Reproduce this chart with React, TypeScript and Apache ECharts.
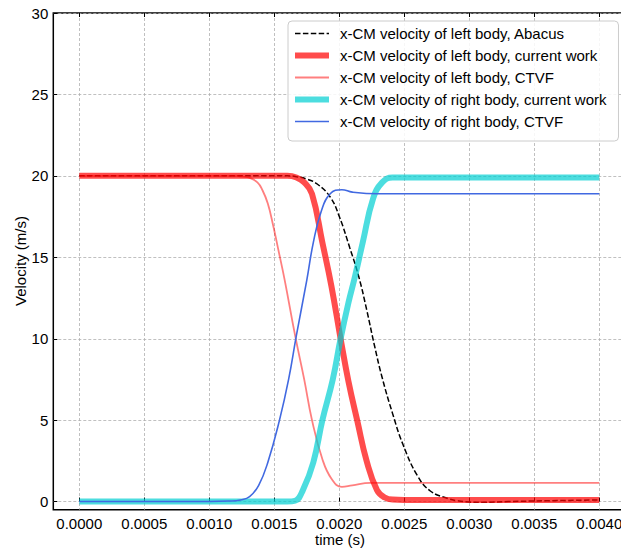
import React, { useEffect, useRef } from "react";
import * as echarts from "echarts";

const FONT = "'Liberation Sans', Arial, Helvetica, sans-serif";

// x tick labels (s) and y tick labels (m/s)
const xTicks = [0, 0.0005, 0.001, 0.0015, 0.002, 0.0025, 0.003, 0.0035, 0.004];
const yTicks = [0, 5, 10, 15, 20, 25, 30];

const seriesNames = [
  "x-CM velocity of left body, Abacus",
  "x-CM velocity of left body, current work",
  "x-CM velocity of left body, CTVF",
  "x-CM velocity of right body, current work",
  "x-CM velocity of right body, CTVF",
];

// Left body, Abacus
const abacusT = [0, 0.0016, 0.00167, 0.00175, 0.00183, 0.00193, 0.002, 0.00208, 0.00215, 0.00221, 0.00227, 0.00233, 0.00241, 0.00249, 0.0026, 0.0027, 0.00283, 0.0029, 0.003, 0.0031, 0.0033, 0.0036, 0.004];
const abacusV = [20, 20, 19.95, 19.8, 19.5, 18.7, 17.5, 15.6, 13.8, 11.8, 9.6, 7.6, 5.4, 3.5, 1.6, 0.65, 0.2, 0.06, -0.03, -0.05, 0.0, 0.05, 0.1];

// Left body, current work
const leftCurT = [0, 0.0016, 0.00167, 0.00173, 0.00179, 0.00187, 0.00194, 0.00201, 0.00207, 0.00214, 0.00221, 0.00229, 0.00235, 0.00241, 0.0025, 0.004];
const leftCurV = [20, 20, 19.9, 19.6, 18.9, 15.9, 13.2, 10.0, 7.4, 4.9, 2.5, 0.7, 0.25, 0.12, 0.1, 0.1];

// Left body, CTVF
const leftCtvfT = [0, 0.0012, 0.00125, 0.0013, 0.00137, 0.00141, 0.00145, 0.00149, 0.00153, 0.00158, 0.00166, 0.00173, 0.00179, 0.00187, 0.00194, 0.00202, 0.0021, 0.00224, 0.004];
const leftCtvfV = [20, 20, 19.97, 19.9, 19.6, 19.1, 18.3, 17.0, 15.5, 13.6, 10.2, 7.5, 5.0, 2.6, 1.4, 0.9, 1.0, 1.15, 1.15];

// Right body, current work
const rightCurT = [0, 0.0016, 0.00166, 0.00172, 0.0018, 0.00187, 0.00195, 0.00201, 0.00207, 0.00212, 0.00218, 0.00226, 0.00233, 0.00241, 0.004];
const rightCurV = [0, 0, 0.05, 0.7, 2.4, 5.0, 7.5, 10.0, 12.2, 13.8, 15.9, 18.6, 19.6, 19.9, 19.9];

// Right body, CTVF
const rightCtvfT = [0, 0.001, 0.00115, 0.00124, 0.00131, 0.00138, 0.00145, 0.00154, 0.00161, 0.00167, 0.00175, 0.0018, 0.00186, 0.00193, 0.00202, 0.0021, 0.0023, 0.004];
const rightCtvfV = [0, 0, 0.03, 0.1, 0.3, 1.0, 2.4, 5.0, 7.5, 10.2, 13.6, 15.9, 17.8, 18.9, 19.15, 19.0, 18.9, 18.9];

const zip = (t: number[], v: number[]) => t.map((x, i) => [x, v[i]]);

export default function App() {
  const ref = useRef<HTMLDivElement>(null);
  useEffect(() => {
    if (!ref.current) return;
    const chart = echarts.init(ref.current, null, { renderer: "svg" });
    const gridLine = { show: true, lineStyle: { color: "#b0b0b0", width: 0.8, type: [3, 2] as any } };
    const common = {
      type: "line",
      xAxisIndex: 1,
      yAxisIndex: 1,
      symbol: "none",
      showSymbol: false,
      smooth: 0.45,
      clip: false,
    };
    const styles = [
      { color: "#000", width: 1.5, type: [5.5, 2.4], opacity: 1 },
      { color: "#ff0000", width: 6, type: "solid", opacity: 0.7 },
      { color: "#ff0000", width: 1.8, type: "solid", opacity: 0.5 },
      { color: "#00ced1", width: 6, type: "solid", opacity: 0.7 },
      { color: "#4169e1", width: 1.6, type: "solid", opacity: 1 },
    ];
    const datas = [
      zip(abacusT, abacusV),
      zip(leftCurT, leftCurV),
      zip(leftCtvfT, leftCtvfV),
      zip(rightCurT, rightCurV),
      zip(rightCtvfT, rightCtvfV),
    ];
    chart.setOption({
      animation: false,
      backgroundColor: "#fff",
      textStyle: { fontFamily: FONT },
      grid: [
        { left: 53.3, top: 13, width: 572, height: 496.7, show: true, borderColor: "#000", borderWidth: 1.5, backgroundColor: "transparent", containLabel: false },
        { left: 79.3, top: 13, width: 520, height: 496.7, containLabel: false },
        { left: 53.3, top: 13, width: 572, height: 488.7, containLabel: false },
      ],
      xAxis: [
        { type: "value", gridIndex: 0, min: -0.0002, max: 0.0042, show: false },
        {
          type: "value", gridIndex: 1, min: xTicks[0], max: xTicks[xTicks.length - 1], interval: 0.0005,
          position: "bottom",
          axisLine: { show: false },
          axisTick: { show: true, inside: true, length: 4, lineStyle: { color: "#000", width: 1 } },
          axisLabel: { show: true, fontSize: 15, color: "#000", margin: 6, fontFamily: FONT, formatter: (v: number) => v.toFixed(4) },
          splitLine: gridLine,
        },
        {
          type: "value", gridIndex: 1, min: xTicks[0], max: xTicks[xTicks.length - 1], interval: 0.0005,
          position: "top",
          axisLine: { show: false },
          axisTick: { show: true, inside: true, length: 4, lineStyle: { color: "#000", width: 1 } },
          axisLabel: { show: false },
          splitLine: { show: false },
        },
        { type: "value", gridIndex: 2, min: 0, max: 1, show: false },
      ],
      yAxis: [
        { type: "value", gridIndex: 0, min: -0.5, max: 30, show: false },
        { type: "value", gridIndex: 1, min: -0.5, max: 30, show: false },
        {
          type: "value", gridIndex: 2, min: yTicks[0], max: yTicks[yTicks.length - 1], interval: 5,
          position: "left",
          axisLine: { show: false },
          axisTick: { show: true, inside: true, length: 4, lineStyle: { color: "#000", width: 1 } },
          axisLabel: { show: true, fontSize: 15, color: "#000", margin: 5, fontFamily: FONT },
          splitLine: gridLine,
        },
      ],
      legend: {
        data: seriesNames.map((name, i) => ({ name, lineStyle: { ...styles[i] } })),
        orient: "vertical",
        left: 288,
        top: 21,
        itemWidth: 34,
        itemHeight: 14,
        itemGap: 7,
        padding: [5, 12, 12, 4],
        backgroundColor: "rgba(255,255,255,0.85)",
        borderColor: "#cccccc",
        borderWidth: 1,
        borderRadius: 4,
        itemStyle: { opacity: 0 },
        textStyle: { fontSize: 15, color: "#000", fontFamily: FONT, padding: [0, 0, 0, 6] },
      },
      series: seriesNames.map((name, i) => ({
        ...common,
        name,
        data: datas[i],
        lineStyle: { ...styles[i] },
        itemStyle: { color: styles[i].color },
      })),
      graphic: [
        { type: "text", x: 340, y: 539, style: { text: "time (s)", fontSize: 15, fill: "#000", fontFamily: FONT, textAlign: "center", textVerticalAlign: "middle" } },
        { type: "text", x: 20, y: 261, rotation: Math.PI / 2, style: { text: "Velocity (m/s)", fontSize: 15, fill: "#000", fontFamily: FONT, textAlign: "center", textVerticalAlign: "middle" } },
      ],
    });
    return () => chart.dispose();
  }, []);
  return <div ref={ref} style={{ position: "fixed", left: 0, top: 0, width: 640, height: 548 }} />;
}
